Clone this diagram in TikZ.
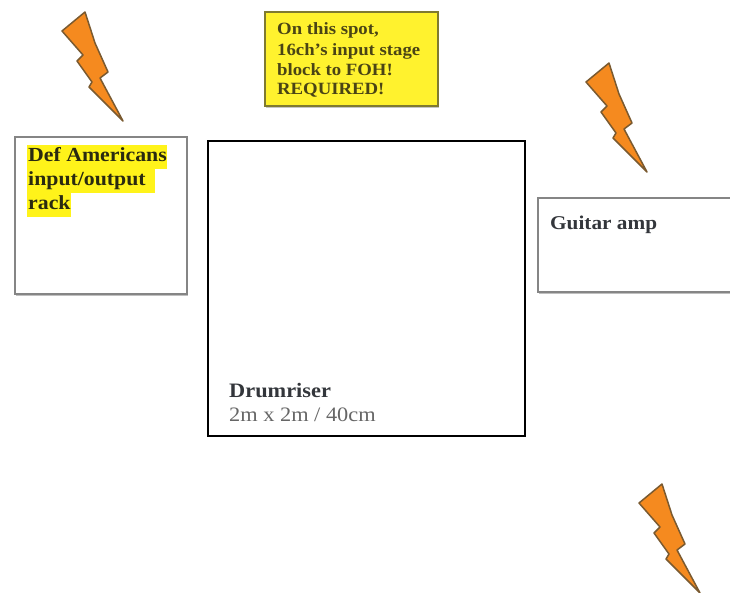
\documentclass[tikz,border=0pt]{standalone}
\usepackage{fontspec}
\setmainfont[FakeStretch=1.09]{Liberation Serif}
\usetikzlibrary{shadows}
\definecolor{boltfill}{HTML}{F58A1F}
\definecolor{boltline}{HTML}{7A5A30}
\definecolor{noteyellow}{HTML}{FFF22E}
\definecolor{noteline}{HTML}{7F7A30}
\definecolor{boxline}{HTML}{858585}
\definecolor{notetext}{HTML}{4A4415}
\definecolor{hltext}{HTML}{2A2A10}
\definecolor{amptext}{HTML}{33363B}
\tikzset{
  x=1pt,y=-1pt,
  boltshape/.style={fill=boltfill,draw=boltline,line width=1.5pt,line join=round},
  shadowbox/.style={draw=boxline,line width=2pt,fill=white,anchor=north west,inner sep=0pt,
    drop shadow={shadow xshift=1pt,shadow yshift=-2.2pt,fill=black!45,opacity=.55}},
  hlline/.style={fill=yellow!90!white,anchor=north west,inner xsep=0pt,inner ysep=0pt,
    minimum height=24pt,text depth=5pt,font=\fontsize{20}{24}\selectfont\bfseries,text=hltext},
  lbl/.style={anchor=base west,inner sep=0pt},
  notetxt/.style={anchor=base west,inner sep=0pt,font=\fontsize{17.2}{20}\selectfont\bfseries,text=notetext}
}
\newcommand{\boltat}[2]{%
  \draw[boltshape,shift={(#1,#2)}] (0,0) -- (-23,19) -- (-2,43) -- (-8,49) -- (7,70) -- (4,75)
    -- (38,109) -- (15,66) -- (23,60) -- (10,31) -- cycle;}
\begin{document}
\begin{tikzpicture}
\clip (0,0) rectangle (730,592);
\fill[white] (0,0) rectangle (730,592);
\boltat{85}{12}
\boltat{609}{63}
\boltat{662}{484}
\node[shadowbox,minimum width=172pt,minimum height=157pt] (rack) at (14,136) {};
\node[hlline] (rackA) at (27,145) {\makebox[140pt][l]{\hspace{1pt}Def Americans}};
\node[hlline] (rackB) at (27,169) {\makebox[128pt][l]{\hspace{1pt}input/output}};
\node[hlline] (rackC) at (27,193) {\makebox[44pt][l]{\hspace{1pt}rack}};
\node[draw=black,line width=2pt,fill=white,anchor=north west,inner sep=0pt,minimum width=317pt,minimum height=295pt] (riser) at (207,140) {};
\node[lbl,font=\fontsize{20.5}{24}\selectfont\bfseries,text=amptext] (riserT) at (229,397) {Drumriser};
\node[lbl,font=\fontsize{20.5}{24}\selectfont,text=black!60] (riserS) at (229,421) {2m x 2m / 40cm};
\node[shadowbox,minimum width=220pt,minimum height=94pt] (amp) at (537,197) {};
\node[lbl,font=\fontsize{19.5}{24}\selectfont\bfseries,text=amptext] (ampT) at (550,229) {Guitar amp};
\node[draw=noteline,line width=2pt,fill=noteyellow,anchor=north west,inner sep=0pt,minimum width=173pt,minimum height=94pt,
  drop shadow={shadow xshift=1pt,shadow yshift=-2pt,fill=black!45,opacity=.5}] (note) at (264,11) {};
\node[notetxt] (noteA) at (277,34) {On this spot,};
\node[notetxt] (noteB) at (277,55) {16ch’s input stage};
\node[notetxt] (noteC) at (277,75) {block to FOH!};
\node[notetxt] (noteD) at (277,94) {REQUIRED!};
\end{tikzpicture}
\end{document}
